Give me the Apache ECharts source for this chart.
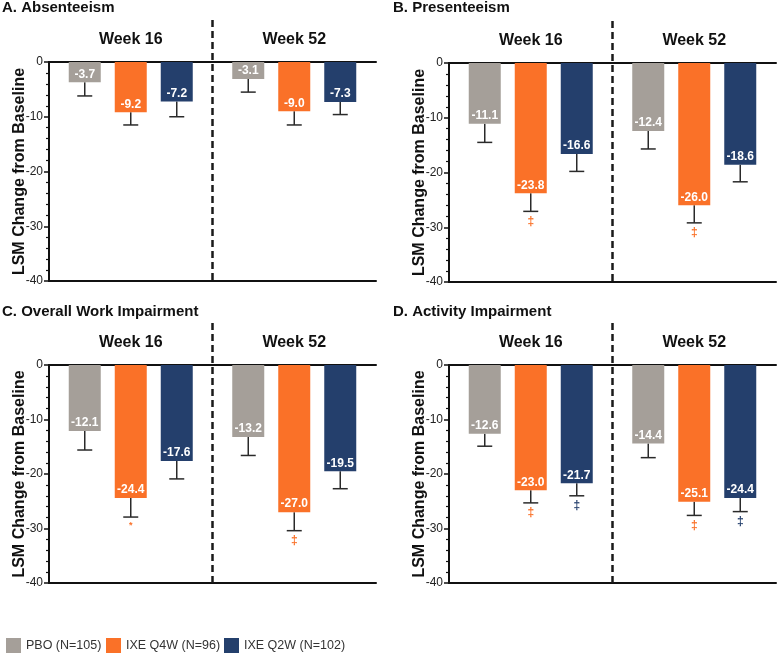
<!DOCTYPE html>
<html><head><meta charset="utf-8">
<script src="https://cdn.jsdelivr.net/npm/echarts@6/dist/echarts.min.js"></script>
<style>html,body{margin:0;padding:0;background:#fff}#c{width:778px;height:656px}</style>
</head><body><div id="c"></div>
<script>
const categories = ['Week 16', 'Week 52'];
const groupNames = ['PBO (N=105)', 'IXE Q4W (N=96)', 'IXE Q2W (N=102)'];
const groupColors = ['#a59f99', '#fa7128', '#243f6c'];
const panelTitles = ['A. Absenteeism', 'B. Presenteeism', 'C. Overall Work Impairment', 'D. Activity Impairment'];
const yTicks = [0, -10, -20, -30, -40];

// [week][group] : means, lower error-bar ends, significance marks
const absenteeismMeans = [[-3.7, -9.2, -7.2], [-3.1, -9.0, -7.3]];
const absenteeismLower = [[-6.2, -11.5, -10.0], [-5.5, -11.5, -9.6]];
const absenteeismMarks = [['', '', ''], ['', '', '']];

const presenteeismMeans = [[-11.1, -23.8, -16.6], [-12.4, -26.0, -18.6]];
const presenteeismLower = [[-14.5, -27.1, -19.8], [-15.7, -29.2, -21.7]];
const presenteeismMarks = [['', '‡', ''], ['', '‡', '']];

const workMeans = [[-12.1, -24.4, -17.6], [-13.2, -27.0, -19.5]];
const workLower = [[-15.6, -27.9, -20.9], [-16.6, -30.4, -22.7]];
const workMarks = [['', '*', ''], ['', '‡', '']];

const activityMeans = [[-12.6, -23.0, -21.7], [-14.4, -25.1, -24.4]];
const activityLower = [[-14.9, -25.3, -24.0], [-17.0, -27.6, -26.9]];
const activityMarks = [['', '‡', '‡'], ['', '‡', '‡']];

const panels = [
  [absenteeismMeans, absenteeismLower, absenteeismMarks],
  [presenteeismMeans, presenteeismLower, presenteeismMarks],
  [workMeans, workLower, workMarks],
  [activityMeans, activityLower, activityMarks]
];

const FONT = "'Liberation Sans', Arial, sans-serif";
const BAR_W = 32, BAR_GAP = 14;
const grids = [
  {left: 49, top: 62, width: 327, height: 219},
  {left: 449, top: 63, width: 327, height: 219},
  {left: 49, top: 365, width: 327, height: 218},
  {left: 449, top: 365, width: 327, height: 218}
];
const titlePos = [{left: 2, top: 0}, {left: 393, top: 0}, {left: 2, top: 304}, {left: 393, top: 304}];
const legendLeft = [6, 106, 224];

const xAxes = [], yAxes = [], series = [], titles = [];
panels.forEach(([means, lower, marks], p) => {
  titles.push(Object.assign({text: panelTitles[p], padding: 0,
    textStyle: {fontSize: 15, fontWeight: 'bold', color: '#111', fontFamily: FONT}}, titlePos[p]));
  xAxes.push({type: 'category', gridIndex: p, data: categories, position: 'top',
    axisLine: {onZero: false, lineStyle: {color: '#111', width: 2}},
    axisTick: {show: false},
    axisLabel: {fontSize: 16, fontWeight: 'bold', color: '#111', margin: 14, fontFamily: FONT}});
  xAxes.push({type: 'category', gridIndex: p, data: categories, position: 'bottom',
    axisLine: {onZero: false, lineStyle: {color: '#111', width: 2}},
    axisTick: {show: false}, axisLabel: {show: false}});
  yAxes.push({type: 'value', gridIndex: p, min: yTicks[yTicks.length - 1], max: yTicks[0], interval: 10,
    axisLine: {show: true, lineStyle: {color: '#111', width: 2}},
    axisTick: {show: true, length: 5, lineStyle: {color: '#111', width: 1.5}},
    minorTick: {show: true, splitNumber: 5, length: 3, lineStyle: {color: '#111', width: 1.2}},
    splitLine: {show: false},
    axisLabel: {fontSize: 12, color: '#222', margin: 6, fontFamily: FONT},
    name: 'LSM Change from Baseline', nameLocation: 'middle', nameGap: 21, nameMoveOverlap: false,
    nameTextStyle: {fontSize: 16, fontWeight: 'bold', color: '#111', fontFamily: FONT}});
  groupNames.forEach((g, gi) => {
    series.push({type: 'bar', name: g, xAxisIndex: 2 * p, yAxisIndex: p,
      data: means.map(w => w[gi]), barWidth: BAR_W, barGap: (BAR_GAP / BAR_W * 100) + '%',
      itemStyle: {color: groupColors[gi]},
      label: {show: true, position: 'insideBottom', distance: 2, color: '#fff', fontSize: 12,
        fontWeight: 'bold', fontFamily: FONT, formatter: d => d.value.toFixed(1)}});
  });
  const errData = [], errMarks = [];
  means.forEach((w, wi) => w.forEach((m, gi) => {
    errData.push([wi, gi, lower[wi][gi], m]);
    errMarks.push(marks[wi][gi]);
  }));
  series.push({type: 'custom', name: 'err' + p, xAxisIndex: 2 * p, yAxisIndex: p, clip: false,
    data: errData, encode: {x: 0, y: [2, 3]},
    renderItem: (params, api) => {
      const wi = api.value(0), gi = api.value(1);
      const top = api.coord([wi, api.value(3)]);
      const low = api.coord([wi, api.value(2)]);
      const x = top[0] + (gi - 1) * (BAR_W + BAR_GAP);
      const st = {stroke: '#2a2a2a', lineWidth: 1.5};
      const children = [
        {type: 'line', shape: {x1: x, y1: top[1], x2: x, y2: low[1]}, style: st},
        {type: 'line', shape: {x1: x - 7.5, y1: low[1], x2: x + 7.5, y2: low[1]}, style: st}
      ];
      const mk = errMarks[params.dataIndex];
      if (mk) {
        children.push({type: 'text', style: {text: mk, x: x, y: low[1] + 4,
          align: 'center', verticalAlign: 'top', fill: groupColors[gi],
          fontSize: mk === '*' ? 9 : 12, fontWeight: 'bold', fontFamily: FONT}});
      }
      return {type: 'group', children};
    }});
  series.push({type: 'custom', name: 'div' + p, xAxisIndex: 2 * p, yAxisIndex: p, clip: false,
    data: [[0, 0]],
    renderItem: (params, api) => {
      const a = api.coord([0, 0]), b = api.coord([1, 0]);
      const bottom = api.coord([0, yTicks[yTicks.length - 1]]);
      const x = (a[0] + b[0]) / 2;
      return {type: 'line', shape: {x1: x, y1: a[1] - 42, x2: x, y2: bottom[1]},
        style: {stroke: '#1a1a1a', lineWidth: 2.5, lineDash: [7, 4]}};
    }});
});

const legends = groupNames.map((g, i) => ({
  data: [g], left: legendLeft[i], top: 638, padding: 0, itemWidth: 15, itemHeight: 15,
  icon: 'rect', selectedMode: false,
  textStyle: {fontSize: 12.5, color: '#333', fontFamily: FONT}
}));

const chart = echarts.init(document.getElementById('c'));
chart.setOption({
  animation: false,
  textStyle: {fontFamily: FONT},
  title: titles,
  grid: grids,
  xAxis: xAxes,
  yAxis: yAxes,
  legend: legends,
  series
});
</script></body></html>
